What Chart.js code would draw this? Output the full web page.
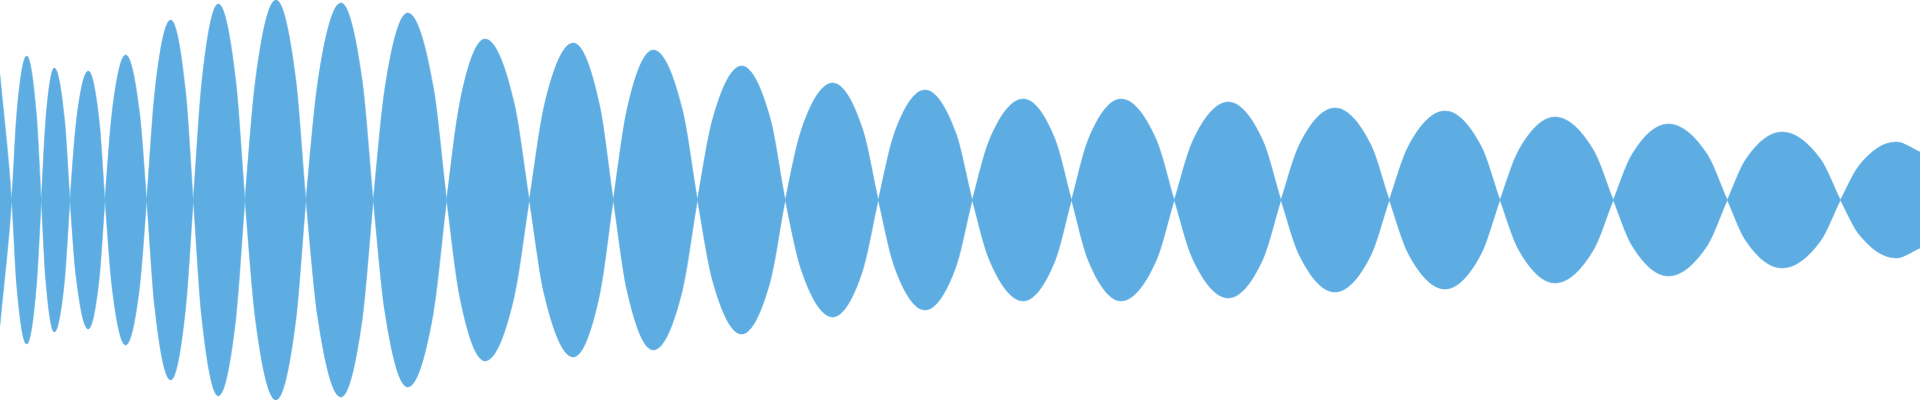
<!DOCTYPE html>
<html>
<head>
<meta charset="utf-8">
<script src="https://cdn.jsdelivr.net/npm/chart.js@4"></script>
<style>
  html, body { margin: 0; padding: 0; background: #fff; }
  #wrap { width: 1920px; height: 400px; }
</style>
</head>
<body>
<div id="wrap"><canvas id="myChart"></canvas></div>
<script>
// zero crossings of the wave (x, in px of the 1920 wide plot)
var crossX = [11.7, 41.3, 70, 105, 146.7, 193.3, 245, 306, 373.3, 446.7, 529.3, 613.3,
  697.5, 785.3, 878.3, 972.3, 1071.5, 1174.3, 1281, 1389.3, 1500, 1613.3, 1727.3, 1840.5];
// peak of each lobe between two crossings
var peakX = [26.7, 54.3, 88.3, 125.7, 170.7, 218.3, 276, 341, 407.7, 485, 573.3, 653.3,
  741.7, 832.7, 925, 1023.3, 1121, 1228.3, 1335, 1445, 1555, 1668.3, 1782, 1896];
var peakAmp = [144, 132, 129, 145, 180, 196, 200, 197, 187, 161, 157, 150,
  134, 117, 110, 101, 101, 98, 92, 89, 83, 76, 68, 58];
// partial lobes cut by the left / right edge
var startPoint = { x: 0, y: -125 };
var endPoint = { x: 1920, y: -48 };
// lobe flank: 60% of the peak at 34% of the way crossing -> peak
var shoulderFrac = 0.34;
var shoulderLevel = 0.6;

// build the signal: alternating sign lobes
var wave = [startPoint];
for (var i = 0; i < peakX.length; i++) {
  var sign = i % 2 === 0 ? 1 : -1;
  var x0 = crossX[i];
  var x1 = i + 1 < crossX.length ? crossX[i + 1] : null;
  var amp = sign * peakAmp[i];
  wave.push({ x: x0, y: 0 });
  wave.push({ x: x0 + shoulderFrac * (peakX[i] - x0), y: shoulderLevel * amp });
  wave.push({ x: peakX[i], y: amp });
  if (x1 !== null) {
    wave.push({ x: x1 - shoulderFrac * (x1 - peakX[i]), y: shoulderLevel * amp });
  }
}
wave.push(endPoint);
var mirror = wave.map(function (p) { return { x: p.x, y: -p.y }; });

var blue = "rgb(93, 173, 226)";
var ctx = document.getElementById("myChart").getContext("2d");
var myChart = new Chart(ctx, {
  type: "line",
  data: {
    datasets: [
      { data: wave, fill: "+1", backgroundColor: blue, borderColor: blue, borderWidth: 0.5, pointRadius: 0, cubicInterpolationMode: "monotone" },
      { data: mirror, fill: false, backgroundColor: blue, borderColor: blue, borderWidth: 0.5, pointRadius: 0, cubicInterpolationMode: "monotone" },
    ],
  },
  options: {
    responsive: true,
    maintainAspectRatio: false,
    animation: false,
    layout: { padding: 0 },
    plugins: { legend: { display: false }, tooltip: { enabled: false } },
    scales: {
      x: { type: "linear", min: 0, max: 1920, display: false },
      y: { min: -200, max: 200, display: false },
    },
  },
});
</script>
</body>
</html>
